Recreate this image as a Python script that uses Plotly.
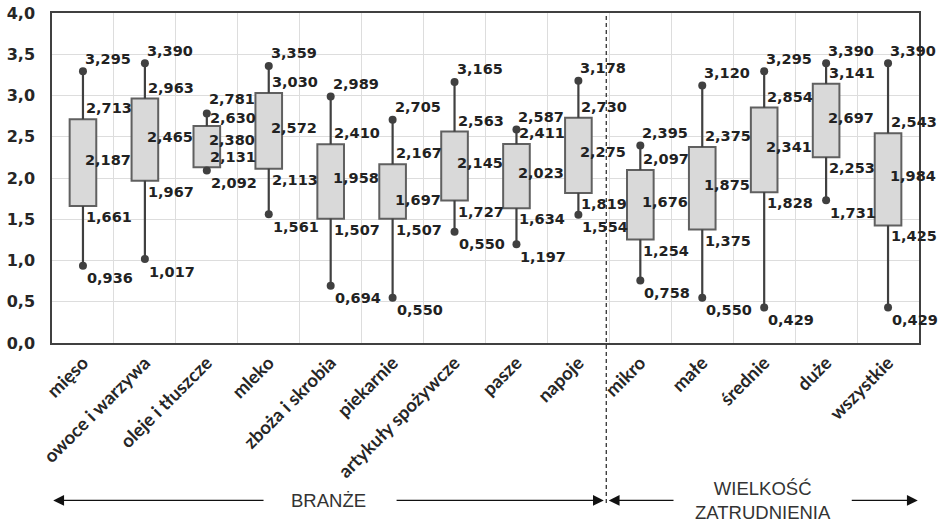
import plotly.graph_objects as go

categories = ["mięso", "owoce i warzywa", "oleje i tłuszcze", "mleko", "zboża i skrobia",
              "piekarnie", "artykuły spożywcze", "pasze", "napoje",
              "mikro", "małe", "średnie", "duże", "wszystkie"]
mins = [0.936, 1.017, 2.092, 1.561, 0.694, 0.550, 1.350, 1.197, 1.554, 0.758, 0.550, 0.429, 1.731, 0.429]
q1s = [1.661, 1.967, 2.131, 2.113, 1.507, 1.507, 1.727, 1.634, 1.819, 1.254, 1.375, 1.828, 2.253, 1.425]
medians = [2.187, 2.465, 2.380, 2.572, 1.958, 1.697, 2.145, 2.023, 2.275, 1.676, 1.875, 2.341, 2.697, 1.984]
q3s = [2.713, 2.963, 2.630, 3.030, 2.410, 2.167, 2.563, 2.411, 2.730, 2.097, 2.375, 2.854, 3.141, 2.543]
maxs = [3.295, 3.390, 2.781, 3.359, 2.989, 2.705, 3.165, 2.587, 3.178, 2.395, 3.120, 3.295, 3.390, 3.390]
# labels as printed on the original (one min label differs from its drawn point)
min_labels = ["0,936", "1,017", "2,092", "1,561", "0,694", "0,550", "0,550", "1,197", "1,554",
              "0,758", "0,550", "0,429", "1,731", "0,429"]
group_labels = ["BRANŻE", "WIELKOŚĆ<br>ZATRUDNIENIA"]


def fmt(v):
    return f"{v:.3f}".replace(".", ",")


fig = go.Figure()

# boxes
fig.add_trace(go.Bar(
    x=categories, y=[b - a for a, b in zip(q1s, q3s)], base=q1s, width=0.43,
    marker=dict(color="#d9d9d9", line=dict(color="#606060", width=2)),
    hoverinfo="skip", showlegend=False))

# whiskers
wx, wy = [], []
for c, lo, a, b, hi in zip(categories, mins, q1s, q3s, maxs):
    wx += [c, c, None, c, c, None]
    wy += [lo, a, None, b, hi, None]
fig.add_trace(go.Scatter(x=wx, y=wy, mode="lines", line=dict(color="#404040", width=2.2),
                         hoverinfo="skip", showlegend=False))

# end points
fig.add_trace(go.Scatter(x=categories + categories, y=mins + maxs, mode="markers",
                         marker=dict(color="#404040", size=8), hoverinfo="skip", showlegend=False))

label_font = dict(family="DejaVu Sans", size=14.5, color="#222222", weight="bold")
annotations = []
default_shift = {"max": 12.5, "q3": 11, "med": 3, "q1": -11, "min": -12.5}
overrides = {("oleje i tłuszcze", "max"): 14.5, ("oleje i tłuszcze", "q3"): 8.5,
             ("oleje i tłuszcze", "med"): 7, ("oleje i tłuszcze", "q1"): 10}
for i, c in enumerate(categories):
    entries = [("max", maxs[i], fmt(maxs[i]), 0),
               ("q3", q3s[i], fmt(q3s[i]), 1),
               ("med", medians[i], fmt(medians[i]), 0),
               ("q1", q1s[i], fmt(q1s[i]), 1),
               ("min", mins[i], min_labels[i], 2)]
    for key, val, txt, xs in entries:
        annotations.append(dict(
            x=c, y=val, xref="x", yref="y", text=txt, showarrow=False,
            xanchor="left", yanchor="middle", xshift=xs,
            yshift=overrides.get((c, key), default_shift[key]),
            font=label_font))

# group arrows and labels
arrow_y = -0.477
for tip, tail in [(-0.48, 2.94), (8.41, 5.04), (8.49, 9.56), (13.48, 12.39)]:
    annotations.append(dict(
        x=tip, y=arrow_y, xref="x", yref="paper", ax=tail, ay=0, axref="x", ayref="pixel",
        text="", showarrow=True, arrowhead=2, arrowsize=1.8, arrowwidth=1.2, arrowcolor="#111111"))
annotations.append(dict(x=3.96, y=arrow_y, xref="x", yref="paper", text=group_labels[0],
                        showarrow=False, xanchor="center", yanchor="middle",
                        font=dict(family="Liberation Sans", size=18.5, color="#333333")))
annotations.append(dict(x=10.98, y=arrow_y, xref="x", yref="paper", text=group_labels[1],
                        showarrow=False, xanchor="center", yanchor="middle",
                        font=dict(family="Liberation Sans", size=18.5, color="#333333")))

fig.update_layout(
    template="none",
    width=941, height=522,
    margin=dict(l=52, r=22, t=13, b=179, autoexpand=False),
    paper_bgcolor="white", plot_bgcolor="white",
    separators=", ",
    showlegend=False,
    annotations=annotations,
    shapes=[dict(type="line", xref="x", yref="paper", x0=8.45, x1=8.45, y0=-0.485, y1=1,
                 line=dict(color="#222222", width=1.2, dash="4px,3px"))],
    xaxis=dict(type="category", categoryorder="array", categoryarray=categories,
               range=[-0.5, 13.5], tickson="boundaries", showgrid=True, gridcolor="#dddddd",
               gridwidth=1, ticks="", tickangle=-45, showline=True, mirror=True,
               linecolor="#404040", linewidth=1.5, automargin=False, zeroline=False,
               tickfont=dict(family="Lato", size=18.5, color="#262626", weight="bold")),
    yaxis=dict(range=[0, 4], dtick=0.5, tickformat=".1f", showgrid=True, gridcolor="#dddddd",
               gridwidth=1, zeroline=False, showline=True, mirror=True, linecolor="#404040",
               linewidth=1.5, ticks="", ticklabelstandoff=12, automargin=False,
               tickfont=dict(family="DejaVu Sans", size=16, color="#262626", weight="bold")),
)

fig.write_html("out.html", config={"displayModeBar": False},
               post_script="document.body.style.margin='0';")
